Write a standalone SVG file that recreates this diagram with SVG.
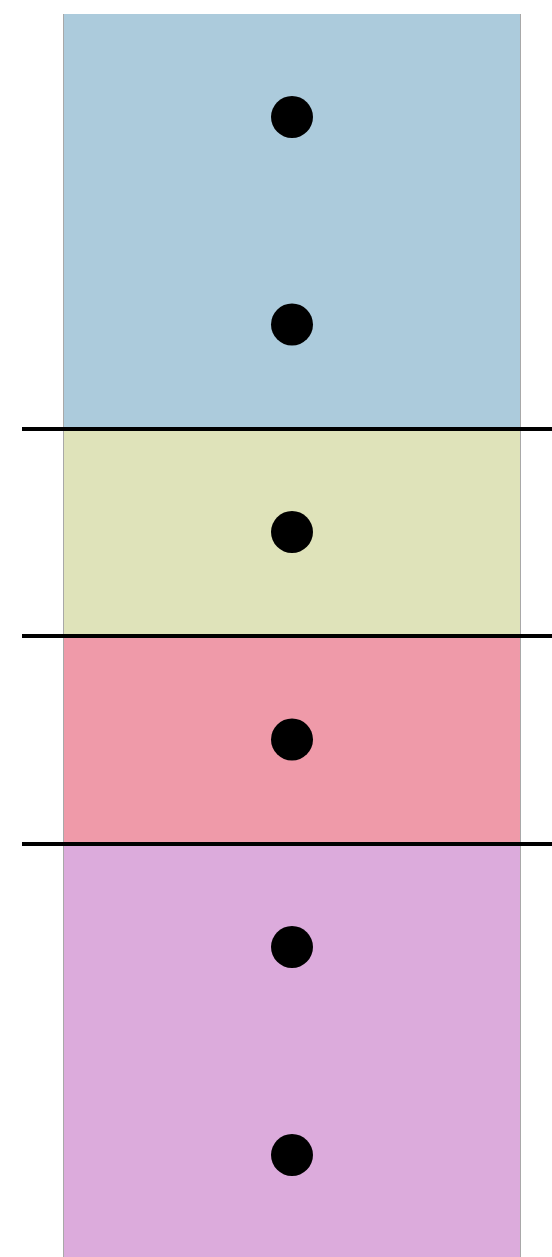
<svg xmlns="http://www.w3.org/2000/svg" width="552" height="1257" viewBox="0 0 552 1257">
<style>
.edge{stroke:#a8a8a8;stroke-width:1}
.dot{fill:#000}
.sep{stroke:#000;stroke-width:4}
</style>
<rect width="552" height="1257" fill="#fff"/>
<g id="bands">
<rect x="63" y="14" width="458" height="415" fill="#accbdc"/>
<rect x="63" y="429" width="458" height="207" fill="#dfe3ba"/>
<rect x="63" y="636" width="458" height="208" fill="#ef9aa9"/>
<rect x="63" y="844" width="458" height="420" fill="#dcabdc"/>
<line class="edge" x1="63.5" y1="14" x2="63.5" y2="1257"/>
<line class="edge" x1="520.5" y1="14" x2="520.5" y2="1257"/>
</g>
<g id="dots">
<circle class="dot" cx="292" cy="117" r="21"/>
<circle class="dot" cx="292" cy="324.5" r="21"/>
<circle class="dot" cx="292" cy="532" r="21"/>
<circle class="dot" cx="292" cy="739.5" r="21"/>
<circle class="dot" cx="292" cy="947" r="21"/>
<circle class="dot" cx="292" cy="1155" r="21"/>
</g>
<g id="connectors">
<line class="sep" x1="22" y1="429" x2="552" y2="429"/>
<line class="sep" x1="22" y1="636" x2="552" y2="636"/>
<line class="sep" x1="22" y1="844" x2="552" y2="844"/>
</g>
</svg>
